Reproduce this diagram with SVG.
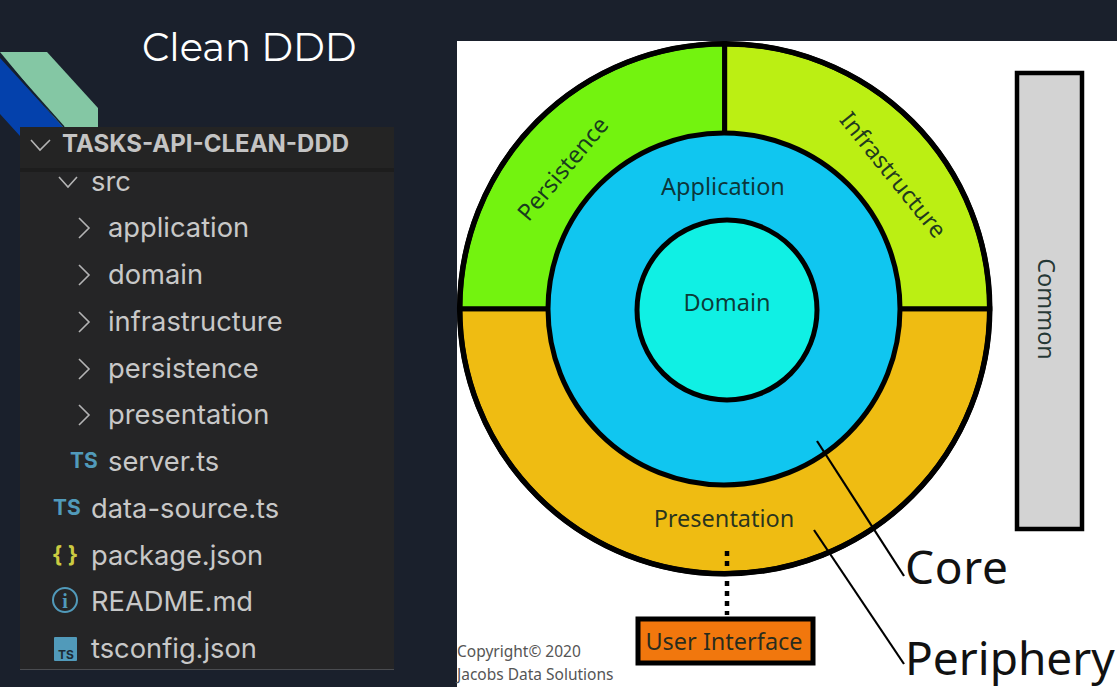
<svg xmlns="http://www.w3.org/2000/svg" width="1117" height="687" viewBox="0 0 1117 687">
<style>
.ex{font-family:Inter,"Open Sans","Noto Sans",sans-serif;font-size:27.300px;fill:#c8c8c8}
.ts{font-family:Inter,"Open Sans","Noto Sans",sans-serif;font-size:21px;font-weight:700;fill:#519aba}
.chev{fill:none;stroke:#b4b4b4;stroke-width:1.600}
.lab{font-family:"Noto Sans","Open Sans",sans-serif;fill:#0c2220;fill-opacity:.88;font-size:23.500px;text-anchor:middle}
.big{font-family:"Noto Sans","Open Sans",sans-serif;fill:#111;font-size:46px}
.cp{font-family:"Noto Sans","Open Sans",sans-serif;fill:#555;font-size:15.500px}
.ring{stroke:#000;stroke-width:5}
</style>
<rect width="1117" height="687" fill="#1a202c"/>
<g id="logo">
<polygon points="0,52 47,52 98,108 98,127 62,127" fill="#84c7a4"/>
<polygon points="0,58 63,127 20,127 20,136 0,114" fill="#0441ac"/>
<line x1="0" y1="55" x2="64" y2="127" stroke="#14202f" stroke-width="1.500"/>
</g>
<text id="title" x="142" y="61" font-family="Montserrat,'Open Sans','Noto Sans',sans-serif" font-size="38.500" fill="#fff">Clean DDD</text>
<g id="explorer">
<rect x="20" y="127" width="374" height="542" fill="#252526"/>
<rect x="20" y="127" width="374" height="42" fill="#242424"/>
<rect x="20" y="168" width="374" height="4" fill="#1d1d1d"/>
<rect x="20" y="669" width="374" height="1" fill="#4a4c50"/>
<path class="chev" d="M31,140 L40,150 L50,140"/>
<text x="62" y="152" font-family="Inter,'Open Sans','Noto Sans',sans-serif" font-size="24" font-weight="700" fill="#c4c4c4">TASKS-API-CLEAN-DDD</text>
<path class="chev" d="M59,177 L68,187 L77,177"/>
<text class="ex" x="91" y="191">src</text>
<path class="chev" d="M79,218 L89,228 L79,238"/>
<text class="ex" x="108" y="237">application</text>
<path class="chev" d="M79,265 L89,275 L79,285"/>
<text class="ex" x="108" y="284">domain</text>
<path class="chev" d="M79,312 L89,322 L79,332"/>
<text class="ex" x="108" y="331">infrastructure</text>
<path class="chev" d="M79,359 L89,369 L79,379"/>
<text class="ex" x="108" y="378">persistence</text>
<path class="chev" d="M79,405 L89,415 L79,425"/>
<text class="ex" x="108" y="424">presentation</text>
<text class="ts" x="70" y="468">TS</text>
<text class="ex" x="108" y="471">server.ts</text>
<text class="ts" x="53" y="515">TS</text>
<text class="ex" x="91" y="518">data-source.ts</text>
<text x="53" y="562" font-family="'Open Sans','Noto Sans',sans-serif" font-size="23" font-weight="700" fill="#cbcb41">{ }</text>
<text class="ex" x="91" y="565">package.json</text>
<circle cx="65" cy="600" r="12" fill="none" stroke="#519aba" stroke-width="2"/>
<text x="65" y="608" font-family="'Liberation Serif',serif" font-size="20" font-weight="700" fill="#519aba" text-anchor="middle">i</text>
<text class="ex" x="91" y="611">README.md</text>
<rect x="54" y="637" width="23" height="24" rx="1" fill="#519aba"/>
<text x="58" y="659" font-family="Inter,'Noto Sans',sans-serif" font-size="12" font-weight="700" fill="#1d2b33">TS</text>
<text class="ex" x="91" y="658">tsconfig.json</text>
</g>
<rect id="panel" x="457" y="41" width="660" height="646" fill="#fff"/>
<g id="periphery">
<path class="ring" d="M459.700,308.700 A265,265 0 0 0 989.700,308.700 Z" fill="#efbc12"/>
<path id="persistence" class="ring" d="M459.700,308.700 A265,265 0 0 1 724.700,43.700 L724.700,308.700 Z" fill="#73f30f"/>
<path id="infrastructure" class="ring" d="M724.700,43.700 A265,265 0 0 1 989.700,308.700 L724.700,308.700 Z" fill="#bbef13"/>
<circle cx="724.700" cy="308.700" r="265" fill="none" stroke="#000" stroke-width="5.500"/>
<text class="lab" transform="translate(563,169) rotate(-50)" y="8">Persistence</text>
<text class="lab" transform="translate(893,175) rotate(51)" y="8">Infrastructure</text>
<text class="lab" x="724" y="527">Presentation</text>
</g>
<g id="application">
<circle class="ring" cx="724" cy="309" r="176" fill="#10c6f0"/>
<text class="lab" x="723" y="195">Application</text>
</g>
<g id="domain">
<circle class="ring" cx="727" cy="310" r="90" fill="#10f0e4"/>
<text class="lab" x="727" y="311">Domain</text>
</g>
<g id="common">
<rect x="1017" y="73" width="65" height="456" fill="#d3d3d3" stroke="#000" stroke-width="4.500"/>
<text class="lab" transform="translate(1038,309) rotate(90)" fill-opacity=".75">Common</text>
</g>
<g id="user-interface">
<rect x="638" y="619" width="175" height="44" fill="#f1770d" stroke="#000" stroke-width="5"/>
<text class="lab" x="724" y="650">User Interface</text>
</g>
<g id="connectors" fill="none" stroke="#000">
<line x1="727" y1="551" x2="727" y2="615" stroke-width="4.500" stroke-dasharray="5 5"/>
<line x1="817" y1="441" x2="904" y2="576" stroke-width="2.200"/>
<line x1="814" y1="530" x2="904" y2="664" stroke-width="2.200"/>
</g>
<text class="big" x="905" y="584" textLength="103">Core</text>
<text class="big" x="905" y="675">Periphery</text>
<text class="cp" x="457" y="657">Copyright© 2020</text>
<text class="cp" x="457" y="680">Jacobs Data Solutions</text>
</svg>
